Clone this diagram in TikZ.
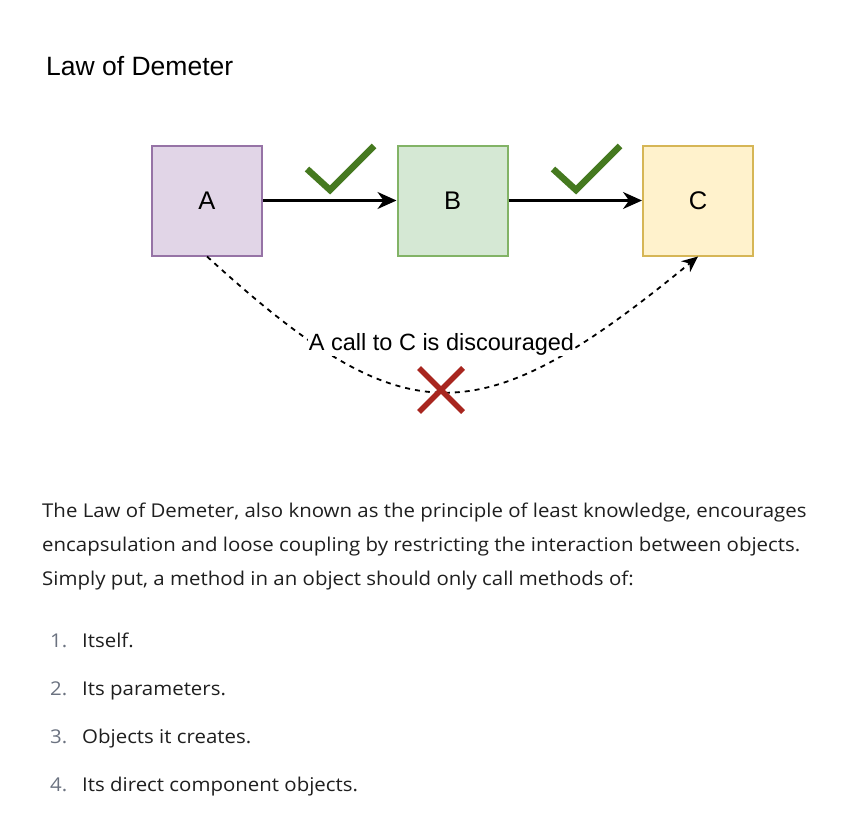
\documentclass[tikz,border=0pt]{standalone}
\usepackage{fontspec}
\setmainfont{Liberation Sans}
\newfontfamily\bodyfont{Open Sans}
\usetikzlibrary{arrows.meta}
\definecolor{afill}{HTML}{E1D5E7}\definecolor{adraw}{HTML}{9673A6}
\definecolor{bfill}{HTML}{D5E8D4}\definecolor{bdraw}{HTML}{82B366}
\definecolor{cfill}{HTML}{FFF2CC}\definecolor{cdraw}{HTML}{D6B656}
\definecolor{okgreen}{HTML}{45791F}
\definecolor{nored}{HTML}{A8261F}
\definecolor{numgrey}{HTML}{6B7280}
\definecolor{bodytext}{HTML}{1F1F1F}
\newcommand{\bodytxt}[1]{\scalebox{1.075}[1]{#1}}
\tikzset{
  x=1pt,y=-1pt,
  objbox/.style={draw,line width=2pt,minimum width=110pt,minimum height=110pt,inner sep=0pt,font=\fontsize{25.5}{25}\selectfont},
  callarrow/.style={line width=2.2pt,-{Stealth[length=19pt,width=17pt,inset=6pt]}},
  badcall/.style={line width=1.8pt,dash pattern=on 5pt off 5pt,-{Stealth[length=16pt,width=14pt,inset=5pt]}},
  tick/.style={okgreen,line width=6.5pt},
  cross/.style={nored,line width=5.5pt},
  bodyline/.style={anchor=base west,inner sep=0pt,font=\bodyfont\fontsize{19}{20}\selectfont,text=bodytext},
  numtext/.style={anchor=base west,inner sep=0pt,font=\bodyfont\fontsize{19}{20}\selectfont,text=numgrey},
}
\begin{document}
\begin{tikzpicture}
\useasboundingbox[fill=white] (0,0) rectangle (850,824);
\node[anchor=base west,inner sep=0pt,font=\fontsize{26.5}{28}\selectfont] (title) at (46,76) {Law of Demeter};
\node[objbox,fill=afill,draw=adraw] (A) at (207,200.5) {A};
\node[objbox,fill=bfill,draw=bdraw] (B) at (452.5,200.5) {B};
\node[objbox,fill=cfill,draw=cdraw] (C) at (698,200.5) {C};
\draw[callarrow] (A) -- (B);
\draw[callarrow] (B) -- (C);
\draw[tick,line join=miter] (307,169) -- (330,190) -- (374,146);
\draw[tick,line join=miter] (553,169) -- (576,190) -- (620,146);
\draw[badcall] (A.south) .. controls (405,437) and (478,437) .. (C.south);
\node[fill=white,inner sep=1pt,font=\fontsize{23.5}{24}\selectfont] (lbl) at (441.5,344) {A call to C is discouraged};
\draw[cross] (419,368) -- (463,412);
\draw[cross] (463,368) -- (419,412);
\node[bodyline] (p1) at (42,517) {\bodytxt{The Law of Demeter, also known as the principle of least knowledge, encourages}};
\node[bodyline] (p2) at (42,551) {\bodytxt{encapsulation and loose coupling by restricting the interaction between objects.}};
\node[bodyline] (p3) at (42,585.5) {\bodytxt{Simply put, a method in an object should only call methods of:}};
\node[numtext] (n1) at (50,647.5) {\bodytxt{1.}};
\node[bodyline] (l1) at (82,647.5) {\bodytxt{Itself.}};
\node[numtext] (n2) at (50,695.5) {\bodytxt{2.}};
\node[bodyline] (l2) at (82,695.5) {\bodytxt{Its parameters.}};
\node[numtext] (n3) at (50,743.5) {\bodytxt{3.}};
\node[bodyline] (l3) at (82,743.5) {\bodytxt{Objects it creates.}};
\node[numtext] (n4) at (50,791.5) {\bodytxt{4.}};
\node[bodyline] (l4) at (82,791.5) {\bodytxt{Its direct component objects.}};
\end{tikzpicture}
\end{document}
